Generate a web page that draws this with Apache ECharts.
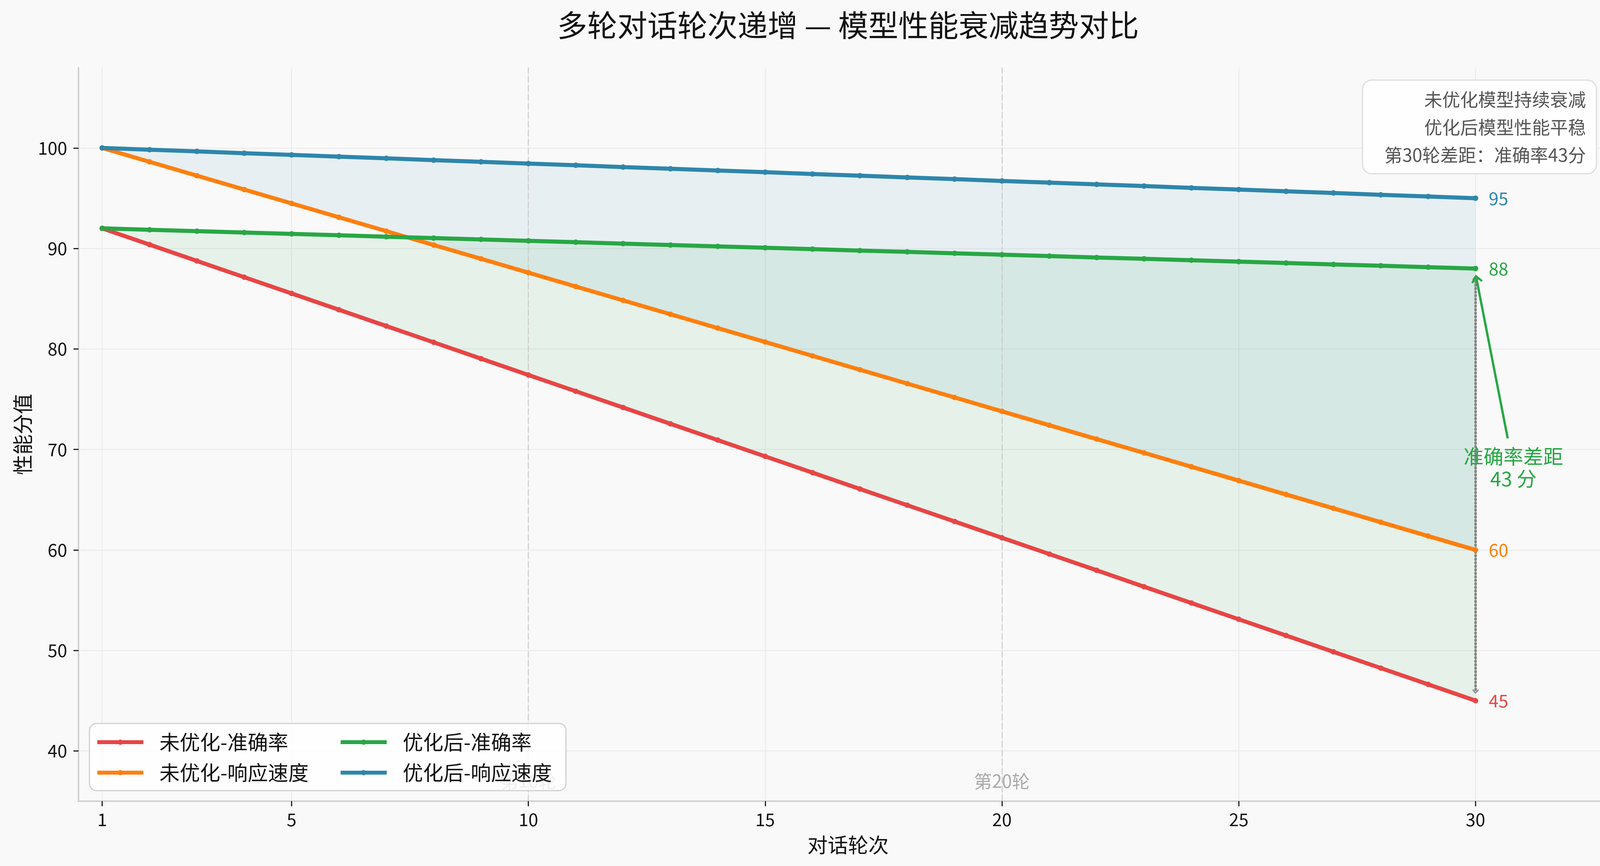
<!DOCTYPE html>
<html><head><meta charset="utf-8">
<script src="https://cdn.jsdelivr.net/npm/echarts@6/dist/echarts.min.js"></script>
<style>html,body{margin:0;padding:0;background:#f9f9f9}#c{width:4171px;height:2217px}</style>
</head><body><div id="c"></div>
<script>
const rounds = [1,2,3,4,5,6,7,8,9,10,11,12,13,14,15,16,17,18,19,20,21,22,23,24,25,26,27,28,29,30];
const xTicks = [1,5,10,15,20,25,30];
const yTicks = [40,50,60,70,80,90,100];
const seriesNames = ['未优化-准确率','未优化-响应速度','优化后-准确率','优化后-响应速度'];
const baseAcc = [92.00,90.38,88.76,87.14,85.52,83.90,82.28,80.66,79.03,77.41,75.79,74.17,72.55,70.93,69.31,67.69,66.07,64.45,62.83,61.21,59.59,57.97,56.34,54.72,53.10,51.48,49.86,48.24,46.62,45.00];
const baseSpeed = [100.00,98.62,97.24,95.86,94.48,93.10,91.72,90.34,88.97,87.59,86.21,84.83,83.45,82.07,80.69,79.31,77.93,76.55,75.17,73.79,72.41,71.03,69.66,68.28,66.90,65.52,64.14,62.76,61.38,60.00];
const optAcc = [92.00,91.86,91.72,91.59,91.45,91.31,91.17,91.03,90.90,90.76,90.62,90.48,90.34,90.21,90.07,89.93,89.79,89.66,89.52,89.38,89.24,89.10,88.97,88.83,88.69,88.55,88.41,88.28,88.14,88.00];
const optSpeed = [100.00,99.83,99.66,99.48,99.31,99.14,98.97,98.79,98.62,98.45,98.28,98.10,97.93,97.76,97.59,97.41,97.24,97.07,96.90,96.72,96.55,96.38,96.21,96.03,95.86,95.69,95.52,95.34,95.17,95.00];
const markRounds = [10, 20];
const markLabels = ['第10轮','第20轮'];
const gapText = '准确率差距\n43 分';
const noteText = '未优化模型持续衰减\n优化后模型性能平稳\n第30轮差距：准确率43分';
const titleText = '多轮对话轮次递增 — 模型性能衰减趋势对比';

const C = {red:'#E84545', orange:'#FF7F0E', green:'#28A745', blue:'#2E86AB'};
const FONT = '"Noto Sans CJK SC", "Noto Sans", sans-serif';
const chev = 'path://M0,12 L10,0 L20,12 L17,14 L10,5.5 L3,14 Z';

const pairs = arr => rounds.map((x, i) => [x, arr[i]]);
const last = rounds.length - 1;

function lineSeries(name, arr, color, extra) {
  return Object.assign({
    name, type: 'line', data: pairs(arr), z: 5,
    symbol: 'circle', symbolSize: 14, showSymbol: true,
    lineStyle: {color, width: 10.5}, itemStyle: {color},
    endLabel: {show: true, distance: 34, color, fontSize: 45, fontFamily: FONT,
      formatter: p => String(Math.round(p.value[1]))},
    emphasis: {disabled: true}, animation: false
  }, extra || {});
}
// band between an upper and a lower series, drawn through the axes' scales
function bandSeries(name, upper, lower, fill) {
  return {
    name, type: 'custom', data: pairs(upper), z: 1, silent: true, clip: true, animation: false,
    renderItem: (params, api) => {
      if (params.dataIndex !== 0) return null;
      const pts = [];
      for (let i = 0; i < rounds.length; i++) pts.push(api.coord([rounds[i], upper[i]]));
      for (let i = rounds.length - 1; i >= 0; i--) pts.push(api.coord([rounds[i], lower[i]]));
      return {type: 'polygon', shape: {points: pts}, style: {fill}};
    }
  };
}

const legendCommon = {
  orient: 'vertical', top: 1874, padding: 0, itemWidth: 118, itemHeight: 17, itemGap: 26,
  z: 110, selectedMode: false, lineStyle: {width: 10},
  textStyle: {fontSize: 52, lineHeight: 51, color: '#111', fontFamily: FONT, padding: [0,0,0,36]}
};

const chart = echarts.init(document.getElementById('c'), null, {renderer: 'canvas'});
const option = {
  backgroundColor: '#f9f9f9',
  animation: false,
  textStyle: {fontFamily: FONT},
  title: {text: titleText, left: 2171, top: 26, padding: 0, textAlign: 'center',
    textStyle: {fontSize: 77, fontWeight: 'normal', color: '#111', fontFamily: FONT}},
  grid: {left: 201, right: 30, top: 173, bottom: 166, outerBoundsMode: 'none', containLabel: false},
  xAxis: {type: 'value', min: 0.5, max: 33,
    name: '对话轮次', nameLocation: 'middle', nameGap: 86,
    nameTextStyle: {fontSize: 52, color: '#111', fontFamily: FONT},
    axisLine: {show: true, lineStyle: {color: '#cccccc', width: 3.5}},
    axisTick: {show: true, length: 13, customValues: xTicks, lineStyle: {color: '#222', width: 3}},
    axisLabel: {customValues: xTicks, fontSize: 45, color: '#111', margin: 24, fontFamily: FONT},
    splitLine: {show: true, lineStyle: {color: '#ebebeb', width: 2.5}}},
  yAxis: {type: 'value', min: 35, max: 108,
    name: '性能分值', nameLocation: 'middle', nameGap: 117, nameRotate: 90,
    nameTextStyle: {fontSize: 52, color: '#111', fontFamily: FONT},
    axisLine: {show: true, lineStyle: {color: '#cccccc', width: 3.5}},
    axisTick: {show: true, length: 13, customValues: yTicks, lineStyle: {color: '#222', width: 3}},
    axisLabel: {customValues: yTicks, fontSize: 45, color: '#111', margin: 29, fontFamily: FONT},
    splitLine: {show: true, lineStyle: {color: '#ebebeb', width: 2.5}}},
  legend: [
    Object.assign({data: [seriesNames[0], seriesNames[1]], left: 244}, legendCommon),
    Object.assign({data: [seriesNames[2], seriesNames[3]], left: 867}, legendCommon)
  ],
  graphic: [
    {type: 'rect', z: 100, silent: true,
     shape: {x: 229, y: 1852, width: 1220, height: 172, r: 18},
     style: {fill: 'rgba(255,255,255,0.8)', stroke: '#d0d0d0', lineWidth: 3}},
    {type: 'rect', z: 100, silent: true,
     shape: {x: 3488, y: 205, width: 599, height: 240, r: 24},
     style: {fill: 'rgba(255,255,255,0.85)', stroke: '#dddddd', lineWidth: 3}},
    {type: 'text', z: 101, silent: true, x: 4060, y: 326,
     style: {text: noteText, fill: '#555555', fontSize: 46, lineHeight: 71, fontFamily: FONT,
       align: 'right', verticalAlign: 'middle'}}
  ],
  series: [
    bandSeries('_speedBand', optSpeed, baseSpeed, 'rgba(46,134,171,0.085)'),
    bandSeries('_accBand', optAcc, baseAcc, 'rgba(40,167,69,0.085)'),
    lineSeries(seriesNames[0], baseAcc, C.red, {
      markLine: {silent: true, animation: false, symbol: ['none','none'], label: {show: false},
        data: [
          ...markRounds.map(r => ({xAxis: r, lineStyle: {type: [16, 7], color: '#cccccc', width: 2.5}})),
          [{coord: [rounds[last], optAcc[last] - 0.9], symbol: chev, symbolSize: [17, 12]},
           {coord: [rounds[last], baseAcc[last] + 0.9], symbol: chev, symbolSize: [17, 12],
            lineStyle: {type: [2, 7], cap: 'round', color: '#858585', width: 6.5}}],
          [{coord: [30.68, 71.1], symbol: 'none'},
           {coord: [30.02, 87.0], symbol: chev, symbolSize: [30, 21],
            lineStyle: {type: 'solid', color: C.green, width: 6}}]
        ]},
      markPoint: {silent: true, animation: false, symbol: 'circle', symbolSize: 1,
        itemStyle: {color: 'rgba(0,0,0,0)'},
        data: [
          ...markRounds.map((r, i) => ({coord: [r, 37], label: {show: true, position: 'inside',
            formatter: markLabels[i], color: '#aaaaaa', fontSize: 46, fontFamily: FONT}})),
          {coord: [30.8, 68.2], label: {show: true, position: 'inside', formatter: gapText,
            color: C.green, fontSize: 51, lineHeight: 57, align: 'center', fontFamily: FONT}}
        ]}
    }),
    lineSeries(seriesNames[1], baseSpeed, C.orange),
    lineSeries(seriesNames[2], optAcc, C.green),
    lineSeries(seriesNames[3], optSpeed, C.blue)
  ]
};
chart.setOption(option);
</script></body></html>
